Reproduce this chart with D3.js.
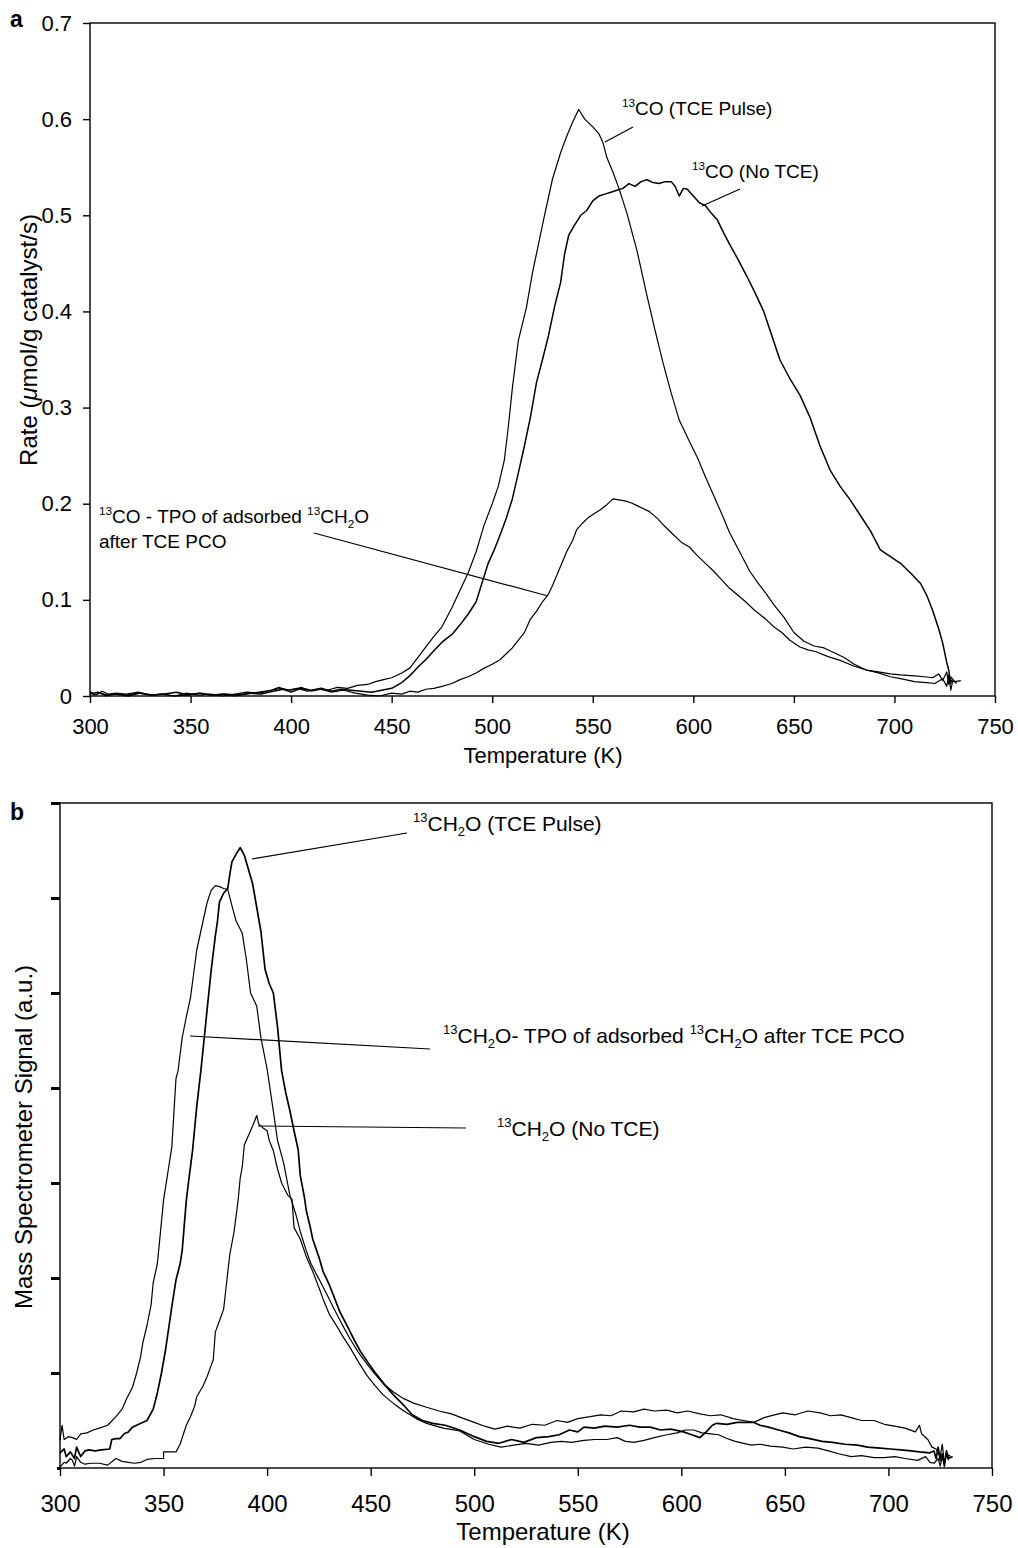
<!DOCTYPE html>
<html>
<head>
<meta charset="utf-8">
<script src="https://cdn.jsdelivr.net/npm/d3@7"></script>
<style>
  html, body { margin: 0; padding: 0; background: #fff; }
  svg { display: block; font-family: "Liberation Sans", Arial, Helvetica, sans-serif; }
</style>
</head>
<body>
<script>
// ---------------- DATA ----------------
const tempTicks = [300, 350, 400, 450, 500, 550, 600, 650, 700, 750];
const rateTicks = [0, 0.1, 0.2, 0.3, 0.4, 0.5, 0.6, 0.7];
const signalTicks = [0, 1, 2, 3, 4, 5, 6, 7];

// Panel a: [Temperature K, Rate umol/g/s]
const coTcePulse = [[300,0.004],[303,0.001],[306,0.005],[309,0.002],[313,0.003],[318,0.002],[324,0.004],[330,0.001],[336,0.002],[342,0.000],[348,0.003],[354,0.001],[360,0.002],[366,0.000],[372,0.002],[378,0.004],[384,0.003],[390,0.006],[394,0.009],[398,0.006],[403,0.008],[408,0.005],[413,0.007],[418,0.006],[423,0.009],[428,0.008],[433,0.011],[438,0.012],[442,0.015],[446,0.017],[450,0.019],[455,0.024],[459,0.029],[463,0.040],[467,0.051],[471,0.062],[475,0.072],[480,0.092],[484,0.110],[488,0.128],[492,0.150],[496,0.178],[500,0.200],[503,0.218],[506,0.245],[508,0.280],[510,0.320],[513,0.370],[517,0.404],[520,0.440],[523,0.470],[526,0.500],[530,0.538],[534,0.565],[537,0.582],[540,0.597],[543,0.610],[546,0.600],[550,0.592],[553,0.585],[555,0.576],[557,0.560],[560,0.545],[563,0.528],[567,0.502],[572,0.463],[577,0.416],[581,0.380],[585,0.346],[589,0.315],[593,0.287],[598,0.265],[602,0.248],[606,0.228],[610,0.209],[614,0.190],[618,0.170],[623,0.150],[628,0.130],[632,0.118],[636,0.107],[640,0.095],[645,0.082],[650,0.066],[655,0.057],[660,0.052],[665,0.050],[670,0.045],[675,0.040],[680,0.033],[686,0.027],[692,0.024],[698,0.020],[703,0.018],[710,0.015],[716,0.014],[720,0.013],[724,0.018],[726,0.010],[727,0.022],[728,0.006],[729,0.016],[731,0.013]];
const coNoTce = [[300,0.002],[304,0.004],[308,0.001],[313,0.002],[319,0.000],[325,0.003],[331,0.001],[337,0.002],[343,0.004],[349,0.001],[355,0.003],[361,0.001],[367,0.002],[373,0.001],[379,0.003],[385,0.002],[391,0.005],[396,0.007],[400,0.004],[405,0.008],[410,0.006],[415,0.008],[420,0.005],[425,0.007],[430,0.006],[435,0.005],[440,0.004],[445,0.006],[450,0.008],[455,0.014],[459,0.021],[463,0.030],[467,0.038],[471,0.047],[475,0.056],[480,0.064],[484,0.074],[488,0.085],[492,0.098],[495,0.118],[498,0.138],[501,0.152],[504,0.168],[507,0.185],[510,0.205],[513,0.232],[516,0.260],[519,0.290],[522,0.326],[525,0.350],[528,0.375],[531,0.405],[534,0.430],[536,0.460],[538,0.479],[541,0.490],[544,0.500],[547,0.505],[550,0.515],[553,0.520],[556,0.522],[559,0.524],[562,0.526],[565,0.528],[568,0.533],[571,0.530],[574,0.535],[577,0.537],[580,0.534],[583,0.533],[586,0.535],[589,0.535],[591,0.530],[593,0.520],[595,0.528],[597,0.527],[600,0.520],[603,0.513],[606,0.510],[609,0.502],[612,0.495],[615,0.482],[618,0.470],[622,0.455],[627,0.435],[631,0.418],[635,0.400],[639,0.375],[643,0.350],[648,0.330],[653,0.313],[658,0.290],[663,0.260],[668,0.235],[673,0.218],[678,0.204],[683,0.188],[688,0.172],[693,0.152],[698,0.145],[703,0.138],[708,0.128],[713,0.117],[716,0.105],[719,0.089],[722,0.070],[724,0.055],[726,0.035],[727,0.027],[728,0.013],[727,0.020],[729,0.014]];
const coPco = [[300,0.005],[302,0.001],[305,0.003],[308,0.000],[312,0.002],[318,0.001],[324,0.003],[330,0.001],[336,0.002],[342,0.000],[348,0.001],[354,0.003],[360,0.001],[366,0.002],[372,0.000],[378,0.002],[384,0.004],[390,0.006],[395,0.008],[400,0.006],[405,0.009],[410,0.005],[415,0.007],[420,0.004],[426,0.006],[432,0.003],[438,0.001],[444,0.000],[450,0.003],[455,0.002],[459,0.005],[463,0.004],[467,0.007],[471,0.008],[475,0.010],[480,0.013],[484,0.017],[488,0.020],[492,0.024],[496,0.029],[500,0.033],[504,0.038],[507,0.044],[510,0.050],[513,0.058],[516,0.066],[519,0.080],[522,0.088],[525,0.098],[528,0.106],[530,0.115],[532,0.125],[535,0.140],[537,0.150],[540,0.162],[542,0.173],[545,0.180],[548,0.186],[551,0.190],[554,0.194],[557,0.199],[560,0.205],[563,0.204],[566,0.203],[569,0.201],[572,0.198],[575,0.195],[578,0.192],[582,0.185],[586,0.176],[590,0.168],[594,0.160],[598,0.155],[602,0.146],[606,0.138],[610,0.130],[614,0.121],[618,0.112],[622,0.105],[626,0.098],[630,0.090],[636,0.080],[640,0.072],[644,0.066],[648,0.058],[653,0.051],[657,0.048],[661,0.046],[667,0.041],[673,0.037],[680,0.031],[686,0.027],[692,0.025],[698,0.023],[703,0.022],[710,0.021],[715,0.020],[719,0.019],[722,0.023],[724,0.016],[726,0.025],[727,0.012],[728,0.020],[730,0.015],[733,0.016]];

// Panel b: [Temperature K, signal a.u.]
const ch2oPco = [[300,0.29],[301,0.45],[302,0.30],[304,0.33],[306,0.32],[308,0.30],[310,0.36],[313,0.37],[316,0.40],[319,0.42],[323,0.45],[327,0.54],[330,0.62],[332,0.72],[335,0.85],[337,1.00],[339,1.18],[340,1.32],[342,1.50],[344,1.72],[345,1.95],[347,2.15],[348,2.37],[350,2.82],[352,3.10],[354,3.38],[356,4.10],[357,4.18],[359,4.53],[361,4.75],[363,4.95],[366,5.45],[369,5.75],[371,5.95],[373,6.08],[375,6.13],[377,6.12],[379,6.10],[381,6.09],[383,5.92],[385,5.76],[388,5.63],[390,5.35],[392,5.00],[395,4.86],[397,4.53],[400,4.20],[403,3.76],[405,3.45],[408,3.21],[411,2.87],[414,2.66],[416,2.49],[419,2.28],[421,2.16],[424,2.03],[426,1.95],[429,1.82],[432,1.69],[436,1.52],[440,1.36],[444,1.22],[448,1.10],[452,0.99],[456,0.89],[461,0.80],[466,0.73],[471,0.68],[477,0.64],[483,0.60],[489,0.57],[495,0.52],[500,0.48],[505,0.44],[510,0.41],[516,0.44],[522,0.42],[528,0.46],[534,0.45],[540,0.50],[545,0.48],[550,0.52],[556,0.54],[561,0.56],[566,0.55],[571,0.60],[577,0.59],[582,0.62],[587,0.60],[593,0.61],[598,0.58],[603,0.60],[609,0.57],[614,0.55],[619,0.56],[625,0.52],[630,0.50],[635,0.48],[640,0.53],[645,0.56],[649,0.58],[655,0.56],[661,0.60],[667,0.58],[672,0.55],[677,0.56],[682,0.53],[687,0.50],[693,0.50],[698,0.46],[703,0.44],[708,0.42],[713,0.38],[715,0.45],[716,0.36],[719,0.30],[721,0.22],[723,0.20],[725,0.12],[726,0.25],[727,0.05],[728,0.15],[730,0.12]];
const ch2oTcePulse = [[300,0.16],[302,0.20],[303,0.12],[305,0.17],[307,0.10],[308,0.22],[310,0.12],[312,0.18],[314,0.19],[317,0.18],[320,0.19],[324,0.20],[325,0.30],[327,0.31],[329,0.31],[331,0.36],[333,0.38],[335,0.43],[338,0.46],[342,0.50],[345,0.62],[347,0.79],[349,1.00],[351,1.25],[352,1.40],[354,1.70],[356,1.98],[358,2.15],[359,2.29],[361,2.82],[362,3.00],[364,3.34],[366,3.80],[368,4.18],[370,4.60],[371,4.82],[373,5.24],[375,5.60],[376,5.75],[377,5.96],[379,6.05],[381,6.10],[382,6.25],[383,6.38],[385,6.46],[387,6.53],[389,6.45],[391,6.30],[393,6.15],[395,5.90],[397,5.65],[399,5.25],[401,5.10],[403,5.00],[405,4.65],[407,4.18],[409,3.95],[411,3.76],[413,3.55],[415,3.35],[416,3.08],[418,2.85],[419,2.70],[421,2.52],[422,2.41],[425,2.22],[427,2.07],[430,1.93],[432,1.82],[435,1.65],[439,1.48],[442,1.35],[445,1.23],[449,1.10],[453,0.98],[457,0.87],[461,0.77],[466,0.66],[470,0.56],[475,0.50],[480,0.47],[486,0.45],[493,0.40],[500,0.33],[506,0.28],[512,0.26],[518,0.30],[524,0.27],[530,0.32],[536,0.33],[541,0.35],[546,0.40],[550,0.38],[553,0.43],[558,0.42],[563,0.44],[569,0.43],[575,0.45],[580,0.43],[585,0.43],[590,0.40],[595,0.41],[601,0.38],[605,0.35],[609,0.32],[612,0.38],[615,0.45],[617,0.47],[622,0.46],[627,0.48],[632,0.48],[635,0.48],[638,0.45],[642,0.43],[647,0.40],[652,0.37],[657,0.33],[662,0.31],[668,0.28],[673,0.27],[679,0.25],[685,0.24],[690,0.22],[696,0.21],[701,0.20],[706,0.19],[711,0.18],[715,0.17],[720,0.16],[722,0.18],[723,0.10],[724,0.22],[725,0.08],[726,0.15],[727,0.02],[728,0.18],[729,0.10],[731,0.12]];
const ch2oNoTce = [[300,0.01],[302,0.06],[303,0.05],[305,0.10],[306,0.08],[307,0.02],[308,0.12],[310,0.06],[312,0.04],[315,0.05],[319,0.05],[323,0.03],[327,0.10],[330,0.07],[333,0.06],[336,0.05],[339,0.06],[342,0.09],[346,0.10],[350,0.10],[350,0.17],[353,0.17],[356,0.17],[358,0.25],[359,0.32],[361,0.45],[363,0.54],[365,0.65],[366,0.75],[369,0.86],[371,0.96],[373,1.08],[374,1.14],[375,1.43],[377,1.55],[379,1.67],[381,2.06],[382,2.25],[384,2.48],[385,2.65],[386,2.82],[387,3.05],[388,3.17],[389,3.40],[391,3.50],[393,3.60],[395,3.71],[396,3.62],[398,3.58],[400,3.55],[401,3.45],[403,3.34],[405,3.15],[407,3.00],[410,2.87],[412,2.83],[413,2.53],[416,2.41],[419,2.22],[422,2.07],[425,1.90],[427,1.78],[430,1.62],[434,1.48],[437,1.37],[440,1.27],[444,1.12],[448,0.98],[452,0.87],[456,0.77],[461,0.68],[466,0.60],[472,0.52],[477,0.47],[485,0.42],[493,0.39],[500,0.30],[507,0.25],[513,0.22],[519,0.24],[525,0.26],[531,0.24],[537,0.27],[542,0.28],[547,0.27],[553,0.29],[558,0.30],[564,0.30],[569,0.32],[573,0.28],[577,0.27],[582,0.29],[587,0.32],[593,0.35],[598,0.37],[602,0.40],[606,0.40],[610,0.37],[614,0.36],[618,0.35],[622,0.31],[626,0.28],[630,0.26],[634,0.24],[638,0.25],[643,0.23],[649,0.22],[654,0.20],[660,0.22],[666,0.21],[671,0.18],[676,0.15],[682,0.12],[687,0.13],[693,0.11],[698,0.11],[703,0.12],[708,0.10],[714,0.08],[718,0.12],[720,0.06],[722,0.05],[724,0.10],[725,0.02],[726,0.12],[727,0.05],[728,0.14],[729,0.08]];

// ---------------- DRAW ----------------
const W = 1018, H = 1548;
const svg = d3.select("body").append("svg").attr("width", W).attr("height", H);
svg.append("rect").attr("width", W).attr("height", H).attr("fill", "#fff");

function richText(g, x, y, parts, size) {
  const t = g.append("text").attr("x", x).attr("y", y).attr("font-size", size).attr("fill", "#000");
  let shift = 0;
  parts.forEach(([s, kind]) => {
    let target = 0, fs = size;
    if (kind === "sup") { target = -0.42 * size; fs = size * 0.62; }
    if (kind === "sub") { target = 0.25 * size; fs = size * 0.62; }
    t.append("tspan").attr("dy", target - shift).attr("font-size", fs).text(s);
    shift = target;
  });
  return t;
}

function frame(g, x, y) {
  const [x0, x1] = x.range(), [y0, y1] = y.range();
  g.append("rect").attr("x", x0).attr("y", y1).attr("width", x1 - x0).attr("height", y0 - y1)
    .attr("fill", "none").attr("stroke", "#000").attr("stroke-width", 1.4);
}

// ----- Panel a -----
const xA = d3.scaleLinear().domain([300, 750]).range([90, 995]);
const yA = d3.scaleLinear().domain([0, 0.7]).range([696, 23]);
const gA = svg.append("g");

const lineA = d3.line().x(d => xA(d[0])).y(d => yA(d[1]));
[coTcePulse, coNoTce, coPco].forEach((s, i) => {
  gA.append("path").attr("d", lineA(s)).attr("fill", "none").attr("stroke", "#000")
    .attr("stroke-width", i === 1 ? 1.5 : 1.2).attr("stroke-linejoin", "round");
});
frame(gA, xA, yA);

const axA = gA.append("g").attr("transform", "translate(0,696)")
  .call(d3.axisBottom(xA).tickValues(tempTicks).tickSize(7).tickPadding(15).tickSizeOuter(0));
const ayA = gA.append("g").attr("transform", "translate(90,0)")
  .call(d3.axisLeft(yA).tickValues(rateTicks).tickSize(7).tickPadding(11).tickSizeOuter(0)
    .tickFormat(d => d === 0 ? "0" : d.toFixed(1)));
[axA, ayA].forEach(a => {
  a.select(".domain").remove();
  a.selectAll("line").attr("stroke", "#000").attr("stroke-width", 1.4);
  a.selectAll("text").attr("font-size", 22).attr("fill", "#000")
    .attr("font-family", "'Liberation Sans', Arial, sans-serif");
});

gA.append("text").attr("x", 10).attr("y", 27).attr("font-size", 23).attr("font-weight", "bold").text("a");
gA.append("text").attr("x", 543).attr("y", 763).attr("text-anchor", "middle").attr("font-size", 22).text("Temperature (K)");
const yTitleA = gA.append("text").attr("transform", "translate(37,340) rotate(-90)")
  .attr("text-anchor", "middle").attr("font-size", 24);
yTitleA.append("tspan").text("Rate (");
yTitleA.append("tspan").attr("font-style", "italic").text("\u03bc");
yTitleA.append("tspan").text("mol/g catalyst/s)");

// annotations a
const ann = (g, x1, y1, x2, y2) => g.append("line").attr("x1", x1).attr("y1", y1).attr("x2", x2).attr("y2", y2)
  .attr("stroke", "#000").attr("stroke-width", 1.2);
ann(gA, 605, 142, 633, 127);
richText(gA, 622, 115, [["13", "sup"], ["CO (TCE Pulse)", ""]], 19);
ann(gA, 702, 206, 740, 189);
richText(gA, 692, 178, [["13", "sup"], ["CO (No TCE)", ""]], 19);
ann(gA, 314, 533, 548, 596);
richText(gA, 99, 523, [["13", "sup"], ["CO - TPO of adsorbed ", ""], ["13", "sup"], ["CH", ""], ["2", "sub"], ["O", ""]], 19);
richText(gA, 99, 548, [["after TCE PCO", ""]], 19);

// ----- Panel b -----
const xB = d3.scaleLinear().domain([300, 750]).range([60, 992]);
const yB = d3.scaleLinear().domain([0, 7]).range([1468, 803]);
const gB = svg.append("g");
const lineB = d3.line().x(d => xB(d[0])).y(d => yB(d[1]));
[[ch2oPco, 1.2], [ch2oTcePulse, 1.7], [ch2oNoTce, 1.2]].forEach(([s, w]) => {
  gB.append("path").attr("d", lineB(s)).attr("fill", "none").attr("stroke", "#000")
    .attr("stroke-width", w).attr("stroke-linejoin", "round");
});
frame(gB, xB, yB);

const axB = gB.append("g").attr("transform", "translate(0,1468)")
  .call(d3.axisBottom(xB).tickValues(tempTicks).tickSize(8).tickPadding(19).tickSizeOuter(0));
axB.select(".domain").remove();
axB.selectAll("line").attr("stroke", "#000").attr("stroke-width", 1.4);
axB.selectAll("text").attr("font-size", 24).attr("fill", "#000")
  .attr("font-family", "'Liberation Sans', Arial, sans-serif");

const ayB = gB.append("g").attr("transform", "translate(60,0)")
  .call(d3.axisLeft(yB).tickValues(signalTicks).tickSize(9).tickFormat("").tickSizeOuter(0));
ayB.select(".domain").remove();
ayB.selectAll("line").attr("stroke", "#000").attr("stroke-width", 3);
ayB.selectAll(".tick").filter(d => d === 0).select("line").attr("x2", -3);

gB.append("text").attr("x", 10).attr("y", 820).attr("font-size", 23).attr("font-weight", "bold").text("b");
gB.append("text").attr("x", 543).attr("y", 1540).attr("text-anchor", "middle").attr("font-size", 24).text("Temperature (K)");
gB.append("text").attr("transform", "translate(32,1137) rotate(-90)").attr("text-anchor", "middle")
  .attr("font-size", 24).text("Mass Spectrometer Signal (a.u.)");

ann(gB, 252, 859, 407, 833);
richText(gB, 413, 831, [["13", "sup"], ["CH", ""], ["2", "sub"], ["O (TCE Pulse)", ""]], 21);
ann(gB, 190, 1036, 430, 1049);
richText(gB, 443, 1043, [["13", "sup"], ["CH", ""], ["2", "sub"], ["O- TPO of adsorbed ", ""], ["13", "sup"], ["CH", ""], ["2", "sub"], ["O after TCE PCO", ""]], 21);
ann(gB, 258, 1126, 466, 1128);
richText(gB, 497, 1136, [["13", "sup"], ["CH", ""], ["2", "sub"], ["O (No TCE)", ""]], 21);
</script>
</body>
</html>
